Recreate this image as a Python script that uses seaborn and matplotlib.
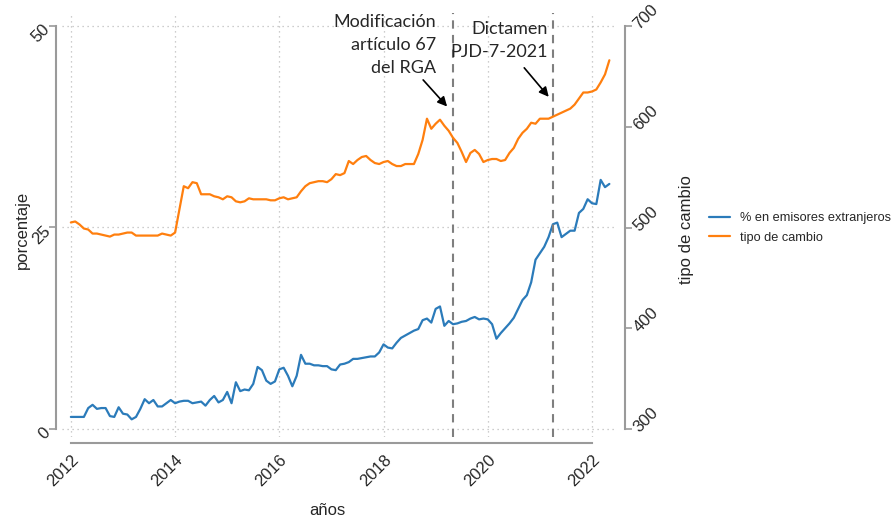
import pandas as pd
import numpy as np
import matplotlib
matplotlib.use("Agg")
import matplotlib.pyplot as plt
import seaborn as sns

# monthly data, Jan 2012 - May 2022
fechas = pd.date_range("2012-01-01", periods=125, freq="MS")

pct_extranjeros = [
    1.5, 1.5, 1.5, 1.5, 2.6, 3.0, 2.5, 2.6, 2.6, 1.6, 1.5, 2.7,
    1.9, 1.8, 1.2, 1.5, 2.5, 3.7, 3.2, 3.6, 2.8, 2.8, 3.2, 3.6,
    3.2, 3.4, 3.5, 3.5, 3.2, 3.3, 3.4, 2.9, 3.6, 4.1, 3.3, 3.6,
    4.6, 3.2, 5.8, 4.7, 4.9, 4.8, 5.6, 7.7, 7.3, 6.0, 5.6, 5.9,
    7.4, 7.6, 6.6, 5.3, 6.6, 9.2, 8.1, 8.1, 7.9, 7.9, 7.8, 7.8,
    7.4, 7.3, 8.0, 8.1, 8.3, 8.7, 8.7, 8.8, 8.9, 9.0, 9.0, 9.5,
    10.5, 10.1, 10.0, 10.7, 11.3, 11.6, 11.9, 12.2, 12.4, 13.5, 13.7, 13.2,
    14.9, 15.2, 12.8, 13.4, 13.0, 13.1, 13.3, 13.4, 13.7, 13.9, 13.6, 13.7,
    13.6, 13.0, 11.2, 11.9, 12.5, 13.1, 13.8, 14.9, 16.0, 16.6, 18.2, 21.0,
    21.8, 22.6, 23.8, 25.4, 25.6, 23.8, 24.2, 24.6, 24.6, 26.8, 27.3, 28.5,
    28.0, 27.9, 30.9, 30.0, 30.4,
]

tipo_cambio = [
    505, 506, 503, 499, 498, 494, 494, 493, 492, 491, 493, 493,
    494, 495, 495, 492, 492, 492, 492, 492, 492, 494, 493, 492,
    495, 518, 541, 539, 545, 544, 533, 533, 533, 531, 530, 528,
    531, 530, 526, 525, 526, 529, 528, 528, 528, 528, 527, 527,
    529, 530, 528, 529, 530, 536, 541, 544, 545, 546, 546, 545,
    548, 553, 552, 554, 566, 563, 567, 570, 571, 567, 564, 563,
    565, 566, 563, 561, 561, 563, 563, 563, 573, 587, 608, 598,
    603, 607, 601, 596, 589, 584, 575, 565, 574, 577, 573, 565,
    567, 568, 568, 566, 567, 574, 579, 588, 594, 598, 604, 603,
    608, 608, 608, 610, 612, 614, 616, 618, 622, 628, 634, 634,
    635, 637, 644, 652, 666,
]

eventos = [2019 + 4 / 12, 2021 + 3 / 12]
textos = ["Modificación\nartículo 67\ndel RGA", "Dictamen\nPJD-7-2021"]

df = pd.DataFrame({"fecha": fechas, "pct": pct_extranjeros, "tc": tipo_cambio})
df["anio"] = df["fecha"].dt.year + (df["fecha"].dt.month - 1) / 12

sns.set_style("white")
plt.rcParams["font.family"] = ["Liberation Sans", "DejaVu Sans"]

azul = "#2b7bba"
naranja = "#ff7f0e"
gris = "#9a9a9a"

fig = plt.figure(figsize=(8.91, 5.21), dpi=100)
ax = fig.add_axes([62 / 891, 1 - 437 / 521, 555 / 891, 424 / 521])
ax2 = ax.twinx()

sns.lineplot(data=df, x="anio", y="pct", ax=ax, color=azul, lw=1.6,
             label="% en emisores extranjeros", legend=False)
sns.lineplot(data=df, x="anio", y="tc", ax=ax2, color=naranja, lw=1.6,
             label="tipo de cambio", legend=False)

ax.set_xlim(2011.83, 2022.48)
ax.set_ylim(-0.99, 51.6)
ax2.set_ylim(292.1, 712.9)

ax.set_xticks(range(2012, 2023, 2))
ax.set_yticks([0, 25, 50])
ax2.set_yticks([300, 400, 500, 600, 700])

ax.grid(True, linestyle=(0, (1, 3)), color="#bdbdbd", lw=0.9)
ax2.grid(False)

ax.spines["top"].set_visible(False)
ax2.spines["top"].set_visible(False)
ax.spines["right"].set_visible(False)
ax2.spines["left"].set_visible(False)
ax2.spines["bottom"].set_visible(False)

ax.spines["left"].set_position(("outward", 4))
ax.spines["left"].set_bounds(0, 50)
ax.spines["bottom"].set_position(("outward", 4))
ax.spines["bottom"].set_bounds(2012, 2022)
ax2.spines["right"].set_position(("outward", 6))
ax2.spines["right"].set_bounds(300, 700)
for sp in [ax.spines["left"], ax.spines["bottom"], ax2.spines["right"]]:
    sp.set_color(gris)
    sp.set_linewidth(1.5)

ax.tick_params(axis="both", length=5, width=1.2, color=gris, labelsize=12, pad=2)
ax2.tick_params(axis="y", length=5, width=1.2, color=gris, labelsize=12, pad=2)
for lab in ax.get_xticklabels():
    lab.set_rotation(45)
    lab.set_ha("right")
    lab.set_rotation_mode("anchor")
for lab in ax.get_yticklabels():
    lab.set_rotation(45)
    lab.set_ha("right")
    lab.set_rotation_mode("anchor")
for lab in ax2.get_yticklabels():
    lab.set_rotation(45)
    lab.set_ha("left")
    lab.set_rotation_mode("anchor")

ax.set_xlabel("años", fontsize=12)
ax.set_ylabel("porcentaje", fontsize=12)
ax2.set_ylabel("tipo de cambio", fontsize=12)
ax.xaxis.set_label_coords(0.479, -0.155)
ax.yaxis.set_label_coords(-0.058, 0.488)
ax2.yaxis.set_label_coords(1.112, 0.49)

# event lines + notes
for xe in eventos:
    ax.axvline(xe, color="#7f7f7f", lw=1.5, ls=(0, (4, 3)))

nota = dict(ha="right", va="top", fontsize=13, family=["Lato", "DejaVu Sans"], linespacing=1.55)
ax.text(eventos[0] - 0.33, 51.5, textos[0], **nota)
ax.text(eventos[1] - 0.1, 50.6, textos[1], **nota)

flecha = dict(arrowstyle="-|>", color="black", lw=1.2, mutation_scale=14, shrinkA=0, shrinkB=0)
ax.annotate("", xy=(2019.22, 40.0), xytext=(2018.76, 43.3), arrowprops=flecha)
ax.annotate("", xy=(2021.17, 41.2), xytext=(2020.70, 44.8), arrowprops=flecha)

h1, l1 = ax.get_legend_handles_labels()
h2, l2 = ax2.get_legend_handles_labels()
fig.legend(h1 + h2, l1 + l2, loc="center left", bbox_to_anchor=(697 / 891, 1 - 228 / 521),
           frameon=False, fontsize=9.2, handlelength=1.7, handletextpad=0.75,
           labelspacing=0.55)

fig.savefig("out.png", dpi=100)
